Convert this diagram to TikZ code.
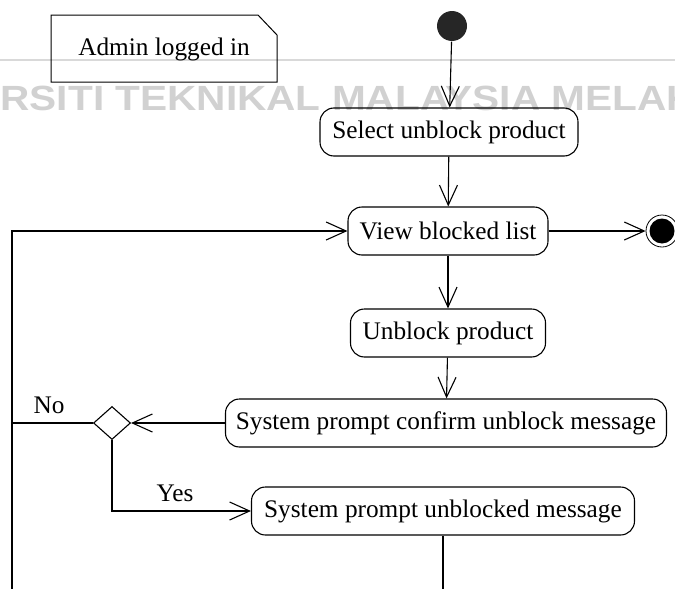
\documentclass[tikz,border=0pt]{standalone}
\usepackage{fontspec}
\setmainfont{Liberation Serif}
\newfontfamily\wmfont{Liberation Sans}
\usepackage{graphicx}
\usetikzlibrary{arrows.meta,positioning,calc,shapes.geometric}

\begin{document}
\begin{tikzpicture}[x=1pt,y=-1pt,line width=1.1pt,
        every node/.style={font=\fontsize{25.3}{30}\selectfont},
        activity/.style={draw, rounded corners=14pt, minimum height=48pt, inner sep=0pt},
        decision/.style={draw, diamond, minimum width=37pt, minimum height=33pt, inner sep=0pt},
        flow/.style={-{Straight Barb[length=20pt,width=18pt]}},
        watermark/.style={text=black!18, inner sep=0pt, anchor=base west,
            font=\wmfont\bfseries\fontsize{35}{35}\selectfont}]
        \useasboundingbox (0,0) rectangle (675,589);
        \clip (0,0) rectangle (675,589);
        % watermark of the scan
        \draw[black!15, line width=2.5pt] (0,60) -- (675,60);
        \node[watermark] (wm) at (0,110) {\scalebox{1.16}[1]{\llap{UNIVE}RSITI TEKNIKAL MALAYSIA MELAKA}};

        % note
        \draw[line width=1pt] (51,15) -- (258,15) -- (277,35) -- (277,82) -- (51,82) -- cycle;
        \node (note) at (164,49) {Admin logged in};

        \node[circle, fill=black!85, minimum size=30pt, inner sep=0pt] (start) at (452,26) {};
        \node[activity, minimum width=258pt] (sel) at (449,132) {Select unblock product};
        \node[activity, minimum width=200pt] (view) at (448,231) {View blocked list};
        \node[circle, draw, line width=0.8pt, minimum size=32pt, inner sep=0pt] (end) at (662,231) {};
        \fill (end) circle[radius=12.5];
        \node[activity, minimum width=195pt] (unblk) at (448,333) {Unblock product};
        \node[activity, minimum width=441pt] (confirm) at (446,423) {System prompt confirm unblock message};
        \node[decision] (dec) at (112,423) {};
        \node[activity, minimum width=383pt] (done) at (443,511) {System prompt unblocked message};
        \coordinate (loop) at (12,620);

        \draw[flow] (start) -- (sel);
        \draw[flow] (sel) -- (view);
        \draw[flow] (view) -- (end);
        \draw[flow] (view) -- (unblk);
        \draw[flow] (unblk) -- (confirm);
        \draw[flow] (confirm) -- (dec);
        \draw (dec) -- (dec -| loop);
        \draw[flow] (dec) |- (done);
        \draw[flow] (done) |- (loop) |- (view);
        \node (no) at (49,405) {No};
        \node (yes) at (175,493) {Yes};
    \end{tikzpicture}
\end{document}
